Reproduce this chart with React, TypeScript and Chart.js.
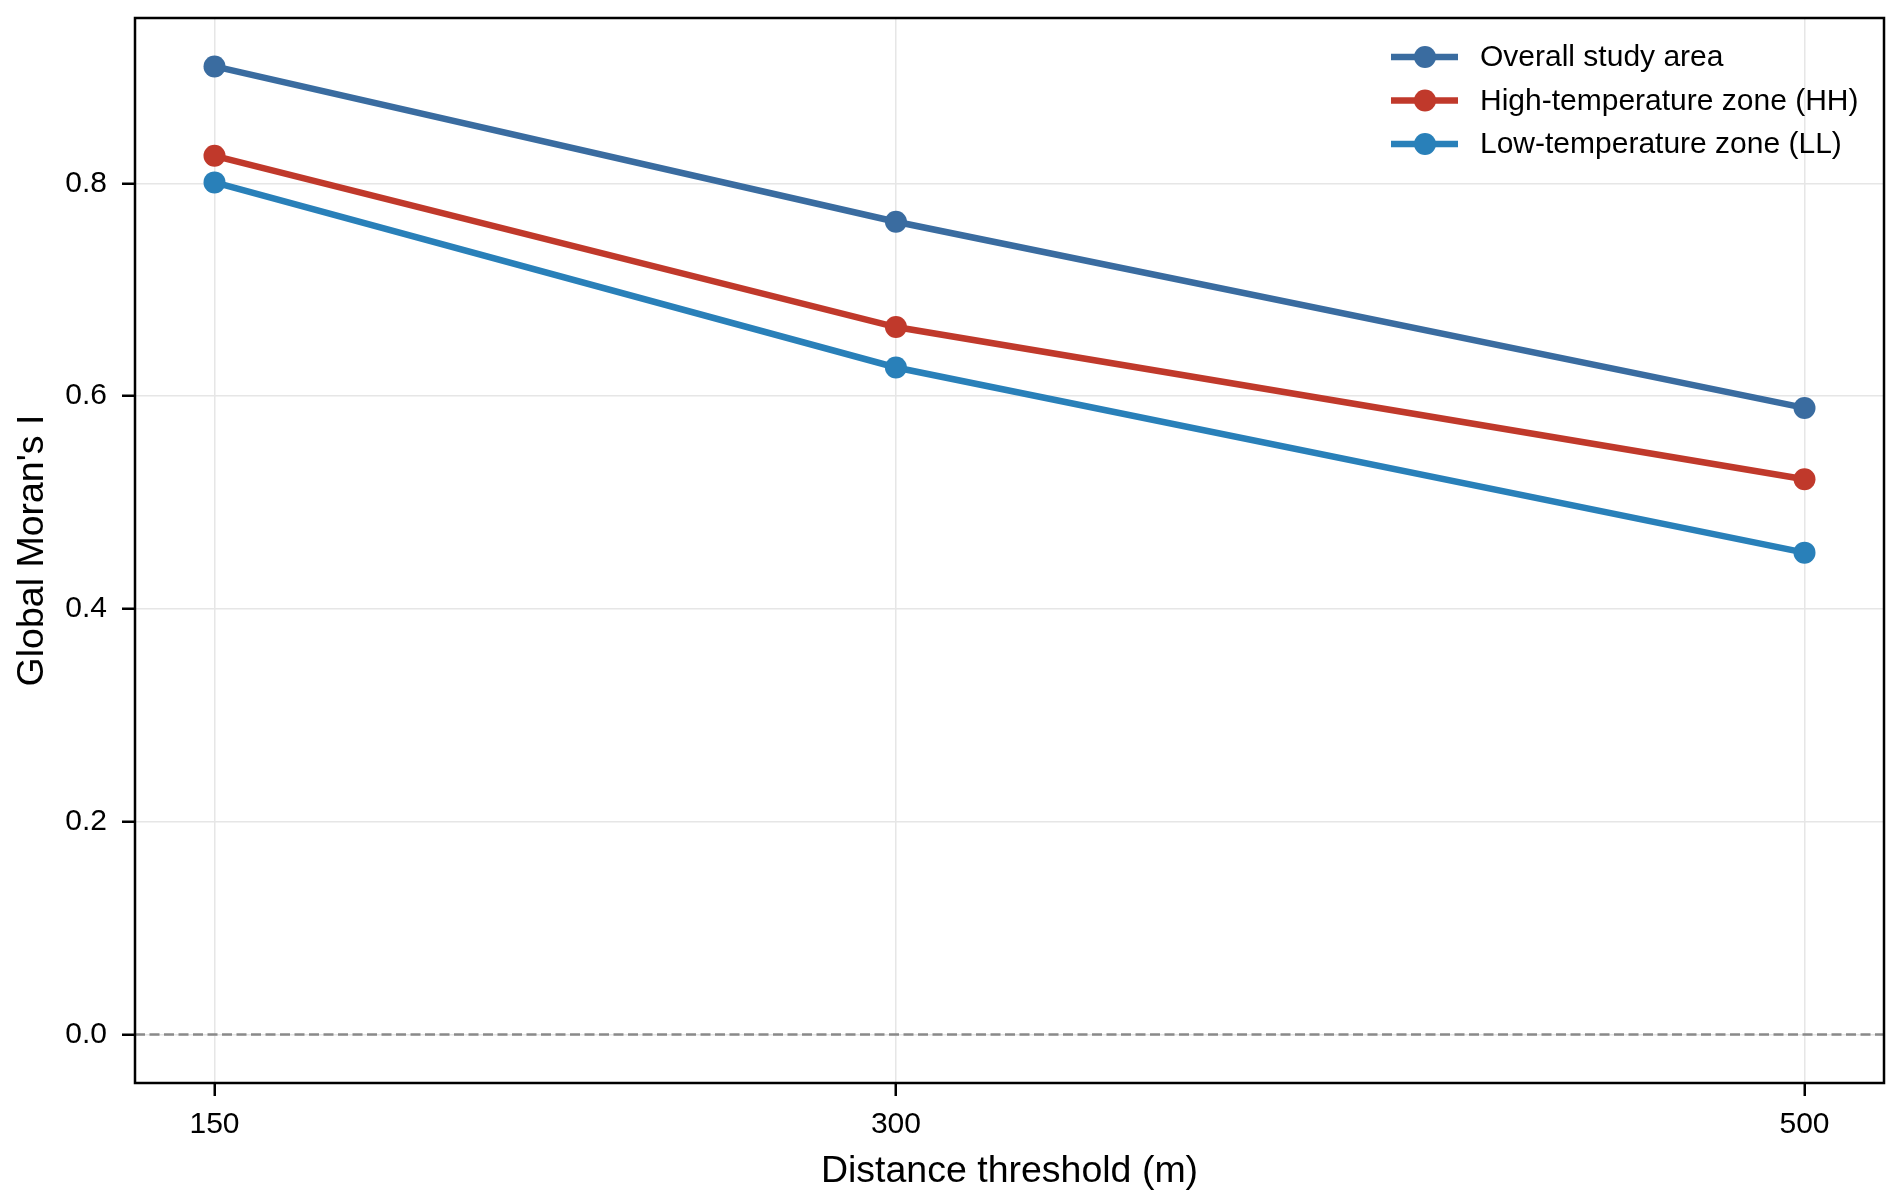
import React, { useRef, useEffect } from 'react';
import { Chart, registerables } from 'chart.js';

Chart.register(...registerables);

// distance thresholds (m)
const distances = [150, 300, 500];
const seriesNames = ['Overall study area', 'High-temperature zone (HH)', 'Low-temperature zone (LL)'];
const overallValues = [0.910, 0.764, 0.589];
const hhValues = [0.826, 0.665, 0.522];
const llValues = [0.801, 0.627, 0.453];
const seriesColors = ['#3a6ca0', '#c0392b', '#2980b9'];
const xTicks = [150, 300, 500];
const yTicks = [0, 0.2, 0.4, 0.6, 0.8];

const FONT = "'Liberation Sans', Arial, Helvetica, sans-serif";

// frame + zero line + legend drawn like the matplotlib original
const extrasPlugin = {
  id: 'extras',
  beforeDatasetsDraw(chart: any) {
    const { ctx, chartArea } = chart;
    const y0 = chart.scales.y.getPixelForValue(0);
    ctx.save();
    ctx.strokeStyle = '#8a8a8a';
    ctx.lineWidth = 2.5;
    ctx.setLineDash([10, 4.5]);
    ctx.beginPath();
    ctx.moveTo(chartArea.left, y0);
    ctx.lineTo(chartArea.right, y0);
    ctx.stroke();
    ctx.restore();
  },
  afterDraw(chart: any) {
    const { ctx, chartArea } = chart;
    ctx.save();
    ctx.strokeStyle = '#000';
    ctx.lineWidth = 2.5;
    ctx.strokeRect(chartArea.left, chartArea.top, chartArea.right - chartArea.left, chartArea.bottom - chartArea.top);

    // legend
    const x0 = chartArea.right - 493;
    const rowTop = chartArea.top + 39;
    const rowGap = 43.5;
    ctx.font = `30px ${FONT}`;
    ctx.textBaseline = 'middle';
    ctx.textAlign = 'left';
    chart.data.datasets.forEach((ds: any, i: number) => {
      const y = rowTop + i * rowGap;
      ctx.strokeStyle = ds.borderColor;
      ctx.lineWidth = 6.5;
      ctx.beginPath();
      ctx.moveTo(x0, y);
      ctx.lineTo(x0 + 67, y);
      ctx.stroke();
      ctx.fillStyle = ds.borderColor;
      ctx.beginPath();
      ctx.arc(x0 + 34, y, 11, 0, Math.PI * 2);
      ctx.fill();
      ctx.fillStyle = '#000';
      ctx.fillText(ds.label, x0 + 89, y + 1);
    });
    ctx.restore();
  },
};

const LineChart: React.FC = () => {
  const canvas = useRef<HTMLCanvasElement>(null);

  useEffect(() => {
    document.body.style.margin = '0';
    if (!canvas.current) return;
    const ctx = canvas.current.getContext('2d');
    if (!ctx) return;

    const allValues = [overallValues, hhValues, llValues];
    const chart = new Chart(ctx, {
      type: 'line',
      data: {
        datasets: allValues.map((vals, i) => ({
          label: seriesNames[i],
          data: distances.map((d, j) => ({ x: d, y: vals[j] })),
          borderColor: seriesColors[i],
          backgroundColor: seriesColors[i],
          borderWidth: 6.5,
          pointRadius: 11,
          pointHoverRadius: 11,
          pointBorderWidth: 0,
          tension: 0,
          fill: false,
        })),
      },
      options: {
        animation: false,
        responsive: false,
        devicePixelRatio: 1,
        layout: { padding: { left: 0, right: 18, top: 18, bottom: 0 } },
        plugins: {
          legend: { display: false },
          tooltip: { enabled: false },
        },
        scales: {
          x: {
            type: 'linear',
            min: 132.5,
            max: 517.5,
            afterBuildTicks: (scale: any) => {
              scale.ticks = xTicks.map((v) => ({ value: v }));
            },
            afterFit: (scale: any) => {
              scale.height = 121;
              scale.paddingLeft = 0;
              scale.paddingRight = 0;
            },
            border: { display: false },
            grid: {
              color: '#e6e6e6',
              lineWidth: 1.5,
              drawTicks: true,
              tickLength: 13,
              tickColor: '#000',
              tickWidth: 2.5,
            },
            ticks: {
              color: '#000',
              font: { family: FONT, size: 30 },
              padding: 11,
              callback: (v: any) => String(v),
            },
            title: {
              display: true,
              text: 'Distance threshold (m)',
              color: '#000',
              font: { family: FONT, size: 37.5 },
              padding: { top: 0, bottom: 10 },
            },
          },
          y: {
            type: 'linear',
            min: -0.0455,
            max: 0.9555,
            afterBuildTicks: (scale: any) => {
              scale.ticks = yTicks.map((v) => ({ value: v }));
            },
            afterFit: (scale: any) => {
              scale.width = 135;
              scale.paddingTop = 0;
              scale.paddingBottom = 0;
            },
            border: { display: false },
            grid: {
              color: '#e6e6e6',
              lineWidth: 1.5,
              drawTicks: true,
              tickLength: 13,
              tickColor: '#000',
              tickWidth: 2.5,
            },
            ticks: {
              color: '#000',
              font: { family: FONT, size: 30 },
              padding: 15,
              callback: (v: any) => Number(v).toFixed(1),
            },
            title: {
              display: true,
              text: "Global Moran's I",
              color: '#000',
              font: { family: FONT, size: 37.5 },
              padding: { top: 10, bottom: 0 },
            },
          },
        },
      },
      plugins: [extrasPlugin],
    });

    return () => chart.destroy();
  }, []);

  return (
    <div style={{ width: 1902, height: 1204, background: '#fff' }}>
      <canvas ref={canvas} width={1902} height={1204}></canvas>
    </div>
  );
};

export default function App() {
  return <LineChart />;
}
